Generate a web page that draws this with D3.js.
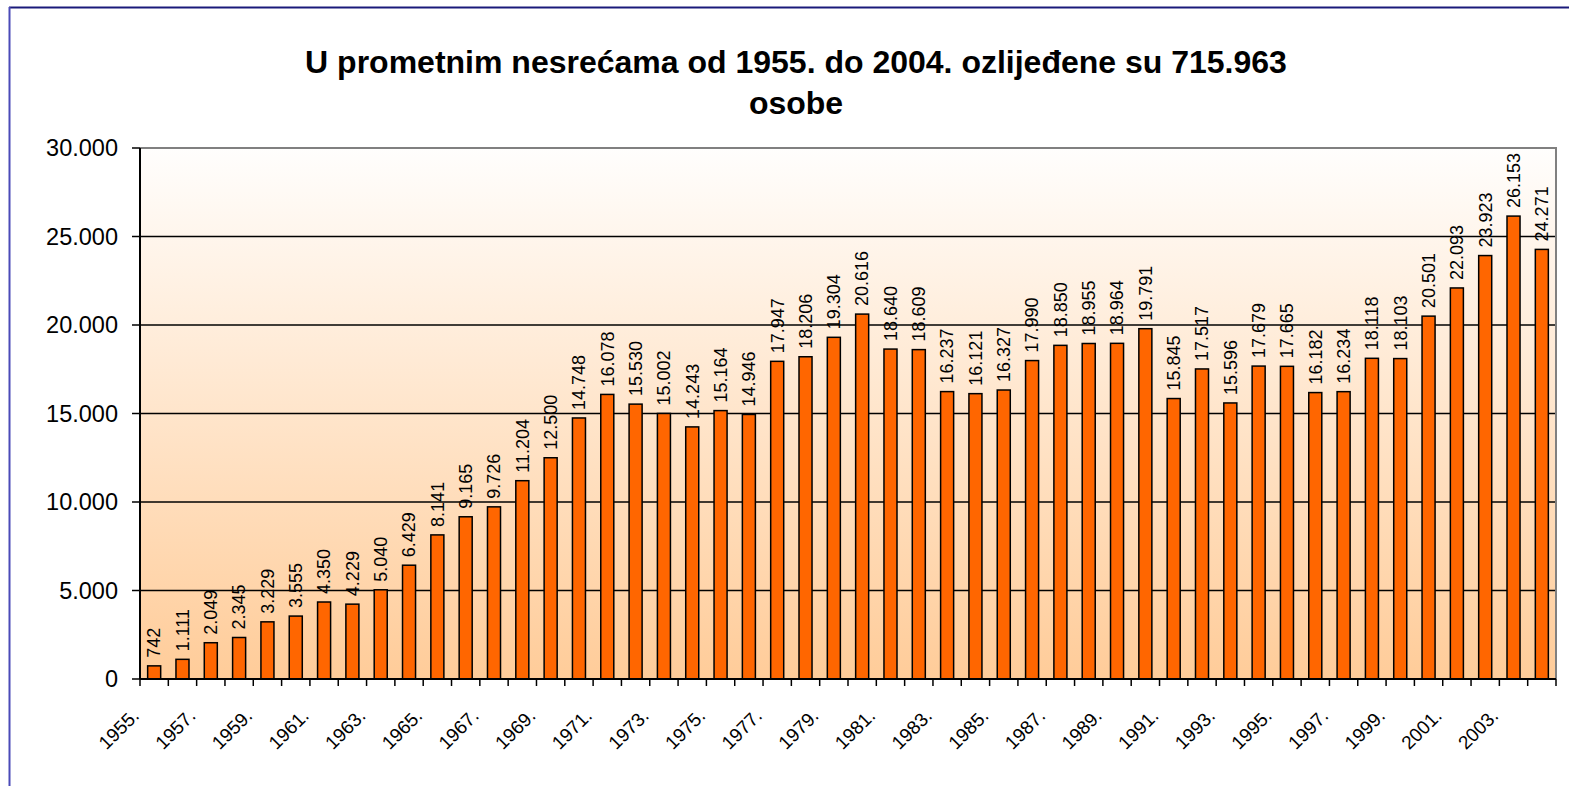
<!DOCTYPE html>
<html>
<head lang="hr">
  <meta charset="UTF-8">
  <title>Ozlijeđeni u prometnim nesrećama 1955.-2004.</title>
  <script src="https://cdn.jsdelivr.net/npm/d3@7"></script>
</head>
<style>
  body { margin: 0; background: #fff; }
  svg { font-family: "Liberation Sans", Arial, sans-serif; display: block; }
  .grid line { stroke: #000; stroke-width: 1.5; }
  .bar { fill: #ff6600; stroke: #000; stroke-width: 1.5; }
  .lbl { font-size: 18px; fill: #000; }
  .ylab { font-size: 23.5px; fill: #000; }
  .xlab { font-size: 19px; fill: #000; }
  .title { font-size: 32px; font-weight: bold; fill: #000; }
</style>
<body>

<svg id="chart" width="1569" height="786"></svg>

<script>
  var years = [1955, 1956, 1957, 1958, 1959, 1960, 1961, 1962, 1963, 1964,
               1965, 1966, 1967, 1968, 1969, 1970, 1971, 1972, 1973, 1974,
               1975, 1976, 1977, 1978, 1979, 1980, 1981, 1982, 1983, 1984,
               1985, 1986, 1987, 1988, 1989, 1990, 1991, 1992, 1993, 1994,
               1995, 1996, 1997, 1998, 1999, 2000, 2001, 2002, 2003, 2004];
  var injured = [742, 1111, 2049, 2345, 3229, 3555, 4350, 4229, 5040, 6429,
                 8141, 9165, 9726, 11204, 12500, 14748, 16078, 15530, 15002, 14243,
                 15164, 14946, 17947, 18206, 19304, 20616, 18640, 18609, 16237, 16121,
                 16327, 17990, 18850, 18955, 18964, 19791, 15845, 17517, 15596, 17679,
                 17665, 16182, 16234, 18118, 18103, 20501, 22093, 23923, 26153, 24271];
  var yTicks = [0, 5000, 10000, 15000, 20000, 25000, 30000];
  var titleLines = ['U prometnim nesrećama od 1955. do 2004. ozlijeđene su 715.963', 'osobe'];

  var plotL = 140, plotR = 1556, plotT = 148, plotB = 679;
  var svg = d3.select('#chart');
  var hr = d3.formatLocale({ decimal: ',', thousands: '.', grouping: [3], currency: ['', ' kn'] });
  var fmt = hr.format(',d');

  var x = d3.scaleBand().domain(years).range([plotL, plotR]).paddingInner(0.54).paddingOuter(0.27);
  var y = d3.scaleLinear().domain([0, 30000]).range([plotB, plotT]);

  // outer frame (only top and left edges show)
  svg.append('line').attr('x1', 9).attr('y1', 7.5).attr('x2', 1569).attr('y2', 7.5)
    .attr('stroke', '#1a1a7a').attr('stroke-width', 2);
  svg.append('line').attr('x1', 9.5).attr('y1', 7).attr('x2', 9.5).attr('y2', 786)
    .attr('stroke', '#4a4ab8').attr('stroke-width', 2);

  // plot background gradient
  var grad = svg.append('defs').append('linearGradient')
      .attr('id', 'bg').attr('x1', 0).attr('y1', 0).attr('x2', 0).attr('y2', 1);
  grad.append('stop').attr('offset', '0%').attr('stop-color', '#fffefd');
  grad.append('stop').attr('offset', '100%').attr('stop-color', '#ffcc99');

  svg.append('rect')
    .attr('x', plotL).attr('y', plotT).attr('width', plotR - plotL).attr('height', plotB - plotT)
    .attr('fill', 'url(#bg)');

  // gridlines
  svg.append('g').attr('class', 'grid')
    .selectAll('line')
    .data(yTicks.filter(function (d) { return d > 0 && d < 30000; }))
    .enter().append('line')
      .attr('x1', plotL).attr('x2', plotR)
      .attr('y1', function (d) { return y(d); }).attr('y2', function (d) { return y(d); });

  // top and right border of plot area
  svg.append('path')
    .attr('d', 'M' + plotL + ',' + plotT + 'H' + plotR + 'V' + plotB)
    .attr('fill', 'none').attr('stroke', '#808080').attr('stroke-width', 2);

  // bars
  svg.append('g').selectAll('rect')
    .data(injured)
    .enter().append('rect')
      .attr('class', 'bar')
      .attr('x', function (d, i) { return x(years[i]); })
      .attr('width', x.bandwidth())
      .attr('y', function (d) { return y(d); })
      .attr('height', function (d) { return plotB - y(d); });

  // data labels
  svg.append('g').selectAll('text')
    .data(injured)
    .enter().append('text')
      .attr('class', 'lbl')
      .attr('transform', function (d, i) {
        var cx = x(years[i]) + x.bandwidth() / 2;
        return 'translate(' + cx + ',' + (y(d) - 8) + ') rotate(-90)';
      })
      .attr('dy', '0.35em')
      .text(fmt);

  // y axis
  var yAxis = svg.append('g');
  yAxis.append('line').attr('x1', plotL).attr('x2', plotL).attr('y1', plotT).attr('y2', plotB)
    .attr('stroke', '#000').attr('stroke-width', 2);
  yAxis.selectAll('line.tick').data(yTicks).enter().append('line')
    .attr('x1', plotL - 8).attr('x2', plotL)
    .attr('y1', function (d) { return y(d); }).attr('y2', function (d) { return y(d); })
    .attr('stroke', '#000').attr('stroke-width', 1.5);
  yAxis.selectAll('text').data(yTicks).enter().append('text')
    .attr('class', 'ylab')
    .attr('x', 118).attr('y', function (d) { return y(d); })
    .attr('dy', '0.36em').attr('text-anchor', 'end')
    .text(function (d) { return d === 0 ? '0' : fmt(d); });

  // x axis, ticks between categories
  var step = x.step(), gap = (step - x.bandwidth()) / 2;
  var bounds = years.map(function (yr) { return x(yr) - gap; }).concat([plotR]);
  var xAxis = svg.append('g');
  xAxis.append('line').attr('x1', plotL).attr('x2', plotR).attr('y1', plotB).attr('y2', plotB)
    .attr('stroke', '#000').attr('stroke-width', 2);
  xAxis.selectAll('line.tick').data(bounds).enter().append('line')
    .attr('x1', function (d) { return d; }).attr('x2', function (d) { return d; })
    .attr('y1', plotB).attr('y2', plotB + 7)
    .attr('stroke', '#000').attr('stroke-width', 1.5);
  xAxis.selectAll('text')
    .data(years.filter(function (d, i) { return i % 2 === 0; }))
    .enter().append('text')
      .attr('class', 'xlab')
      .attr('text-anchor', 'end')
      .attr('transform', function (d) {
        var cx = x(d) + x.bandwidth() / 2;
        return 'translate(' + (cx - 14) + ',717) rotate(-45)';
      })
      .text(function (d) { return d + '.'; });

  // title
  svg.append('g').selectAll('text')
    .data(titleLines)
    .enter().append('text')
      .attr('class', 'title')
      .attr('x', 796)
      .attr('y', function (d, i) { return 73 + i * 41; })
      .attr('text-anchor', 'middle')
      .text(function (d) { return d; });
</script>
</body>
</html>
